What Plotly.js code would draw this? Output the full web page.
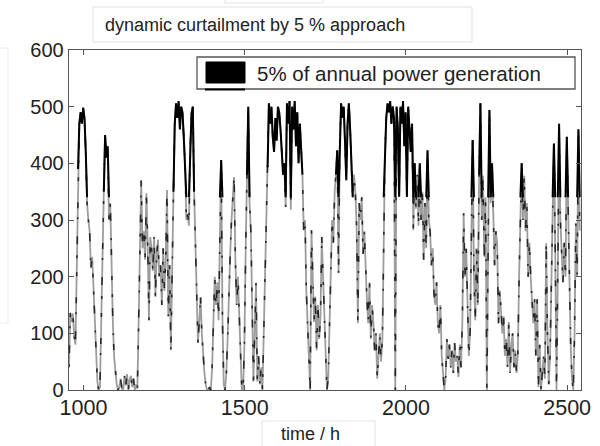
<!DOCTYPE html>
<html><head><meta charset="utf-8">
<script src="https://cdn.plot.ly/plotly-3.0.1.min.js"></script>
<style>html,body{margin:0;padding:0;background:#fff}#chart{width:600px;height:446px}</style>
</head><body><div id="chart"></div>
<script>
// ---- data ----
const startHour = 955;      // first sample (h)
const stepHours = 4;        // sampling step (h)
const power = [
  40,136,120,135,95,80,210,390,470,490,
  470,498,480,420,330,300,280,215,235,180,
  120,58,15,0,5,120,260,350,450,410,
  430,300,330,190,120,58,
  30,10,0,5,20,2,0,25,8,28,0,18,25,5,20,0,10,2,
  120,270,370,
  250,280,230,347,260,123,270,250,210,270,164,240,265,200,220,150,250,175,230,353,130,220,70,258,
  350,470,506,480,510,460,500,490,446,
  400,300,310,290,430,488,500,350,
  250,129,83,120,164,100,
  60,30,10,0,0,5,0,
  40,120,200,150,190,123,260,406,
  123,10,0,30,
  90,180,240,300,350,376,
  230,150,200,120,60,0,
  0,80,250,380,500,
  330,282,150,15,100,189,15,60,10,40,0,
  80,200,300,393,506,
  470,500,446,420,480,440,500,490,460,420,380,400,323,506,470,510,318,500,460,510,430,490,400,470,420,
  380,282,300,176,118,60,0,
  282,180,120,165,70,150,90,130,270,200,123,
  40,0,20,
  118,220,300,260,350,380,423,206,440,506,
  480,500,440,370,470,506,460,400,340,380,
  350,290,118,330,300,
  340,240,280,200,160,118,190,
  90,150,120,70,100,20,
  60,100,50,90,
  250,423,480,506,
  490,510,470,500,480,0,500,460,341,500,470,510,430,490,341,500,460,420,
  470,282,400,320,380,290,
  400,300,350,230,330,250,423,300,
  280,220,250,170,150,
  190,118,100,150,60,30,0,
  20,90,55,80,40,70,
  30,83,50,60,23,80,40,
  120,312,200,250,170,
  60,100,300,441,
  200,123,250,150,380,
  506,300,378,235,340,
  0,
  250,494,330,400,
  310,220,280,260,118,
  176,140,100,130,60,90,40,
  120,30,80,100,40,70,30,60,
  200,320,400,
  300,378,280,330,200,260,
  200,150,118,160,
  60,160,5,80,0,30,
  60,20,259,100,
  10,60,200,
  300,435,250,
  0,200,470,
  300,235,190,260,200,
  447,300,150,
  80,20,0,
  100,294,200,460,282
];
const curtailThreshold = 400;   // level above which generation is curtailed
const xTickVals = [1000, 1500, 2000, 2500];
const yTickVals = [0, 100, 200, 300, 400, 500, 600];
const xRange = [955, 2543];
const yRange = [0, 600];
const titleText = 'dynamic curtailment by 5 % approach';
const xTitleText = 'time / h';
const legendText = '5% of annual power generation';

// ---- derived views ----
const hours = power.map((_, i) => startHour + i * stepHours);
const curtailed = power.map((v, i) => {
  const p = i > 0 ? power[i - 1] : -1, n = i < power.length - 1 ? power[i + 1] : -1;
  if (v >= curtailThreshold) return v;
  if (p >= curtailThreshold || n >= curtailThreshold) return Math.max(v, curtailThreshold - 60);
  return null;
});

// plot-area geometry (px) for decorations
const L = 69, T = 50, W = 512, H = 340;
const px = x => (x - L) / W;
const py = y => (T + H - y) / H;
const FONT = 'Liberation Sans, Arial, sans-serif';

const traces = [
  {x: hours, y: power, type: 'scatter', mode: 'lines', line: {color: '#9d9d9d', width: 1.8}, hoverinfo: 'skip', showlegend: false},
  {x: hours, y: power, type: 'scatter', mode: 'lines', line: {color: 'rgba(0,0,0,0.75)', width: 1.6, dash: '3px,11px,8px,17px,2px,9px,6px,21px,4px,14px'}, hoverinfo: 'skip', showlegend: false},
  {x: hours, y: curtailed, type: 'scatter', mode: 'lines', connectgaps: false, name: legendText, line: {color: '#000', width: 2}, showlegend: false}
];

const box = (x0, x1, y0, y1, col, w, fill) => ({type: 'rect', xref: 'paper', yref: 'paper', x0: px(x0), x1: px(x1), y0: py(y1), y1: py(y0), line: {color: col, width: w}, fillcolor: fill || 'rgba(0,0,0,0)'});

const layout = {
  width: 600, height: 446,
  margin: {l: L, r: 600 - L - W, t: T, b: 446 - T - H},
  paper_bgcolor: '#fff', plot_bgcolor: '#fff',
  showlegend: false,
  title: {text: titleText, font: {family: FONT, size: 18, color: '#222'}, xref: 'container', yref: 'container', x: 105 / 600, xanchor: 'left', y: 1 - 25 / 446, yanchor: 'middle'},
  xaxis: {range: xRange, tickvals: xTickVals, ticktext: xTickVals.map(String), ticks: 'inside', ticklen: 5, mirror: 'ticks', showline: true, linecolor: '#555', linewidth: 1.3, tickcolor: '#555', showgrid: false, zeroline: false, ticklabelstandoff: -2, tickfont: {family: FONT, size: 21.5, color: '#222'}},
  yaxis: {range: yRange, tickvals: yTickVals, ticktext: yTickVals.map(String), ticks: 'inside', ticklen: 5, mirror: 'ticks', showline: true, linecolor: '#555', linewidth: 1.3, tickcolor: '#555', showgrid: false, zeroline: false, tickfont: {family: FONT, size: 20, color: '#222'}},
  shapes: [
    box(93, 472, 7, 42, '#e2e2e2', 1, '#fff'),
    box(225, 323, -10, 3, '#e2e2e2', 1, '#fff'),
    box(-10, 8, 48, 323, '#ececec', 1, '#fff'),
    box(262, 375, 421, 460, '#e2e2e2', 1, '#fff'),
    box(197, 575, 57, 89, '#555', 1.3, '#fff'),
    box(206, 245, 62, 83, '#000', 1, '#000'),
    {type: 'line', xref: 'paper', yref: 'paper', x0: px(205), x1: px(245), y0: py(89.5), y1: py(89.5), line: {color: '#000', width: 2}}
  ],
  annotations: [
    {text: legendText, xref: 'paper', yref: 'paper', x: px(255), y: py(74), xanchor: 'left', yanchor: 'middle', showarrow: false, font: {family: FONT, size: 20.5, color: '#222'}},
    {text: xTitleText, xref: 'paper', yref: 'paper', x: px(310), y: py(434), xanchor: 'center', yanchor: 'middle', showarrow: false, font: {family: FONT, size: 18, color: '#222'}}
  ]
};

Plotly.newPlot('chart', traces, layout, {staticPlot: true, displayModeBar: false});
</script>
</body></html>
